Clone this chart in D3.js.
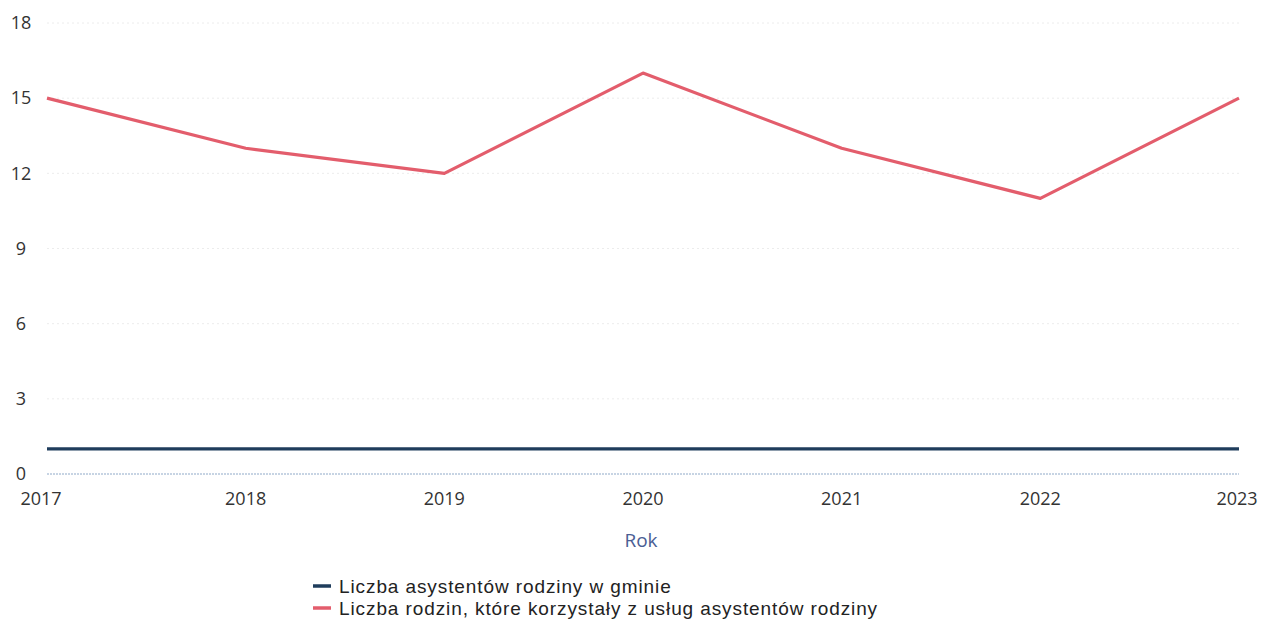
<!DOCTYPE html>
<html><head><meta charset="utf-8">
<script src="https://cdn.jsdelivr.net/npm/d3@7"></script>
<style>body{margin:0;background:#fff;} svg{display:block;font-family:"Open Sans",sans-serif;}</style>
</head><body><svg id="c" width="1264" height="620"></svg>
<script>
const years = ["2017","2018","2019","2020","2021","2022","2023"];
const assistants = [1,1,1,1,1,1,1];
const families = [15,13,12,16,13,11,15];
const yTicks = [0,3,6,9,12,15,18];
const seriesNames = ["Liczba asystentów rodziny w gminie","Liczba rodzin, które korzystały z usług asystentów rodziny"];
const colors = ["#1f3d5c","#e35d6c"];

const svg = d3.select("#c");
const x = d3.scalePoint().domain(years).range([47,1239]);
const y = d3.scaleLinear().domain([0,18]).range([474,23]);

// gridlines
svg.append("g").selectAll("line").data(yTicks.filter(d=>d>0)).join("line")
  .attr("x1",47).attr("x2",1239).attr("y1",d=>y(d)).attr("y2",d=>y(d))
  .attr("stroke","#ececec").attr("stroke-dasharray","2,3").attr("stroke-width",1);
// zero line
svg.append("line").attr("x1",47).attr("x2",1239).attr("y1",y(0)).attr("y2",y(0))
  .attr("stroke","#8fa9c8").attr("stroke-dasharray","2,1").attr("stroke-width",1);

// y labels
svg.append("g").selectAll("text").data(yTicks).join("text")
  .attr("x",21).attr("y",d=>y(d)).attr("dy","0.35em").attr("text-anchor","middle")
  .attr("font-size",18).attr("fill","#333").text(d=>d);
// x labels
svg.append("g").selectAll("text").data(years).join("text")
  .attr("x",d=>x(d)+(d==="2017"?-6:(d==="2023"?-2:0))).attr("y",505).attr("text-anchor","middle")
  .attr("font-size",18).attr("fill","#333").text(d=>d);
svg.append("text").attr("x",641).attr("y",547).attr("text-anchor","middle")
  .attr("font-size",19).attr("fill","#4a5d94").text("Rok");

const line = d3.line().x((d,i)=>x(years[i])).y(d=>y(d));
[assistants,families].forEach((s,k)=>{
  svg.append("path").datum(s).attr("d",line).attr("fill","none")
    .attr("stroke",colors[k]).attr("stroke-width",3.2).attr("stroke-linejoin","round");
});

// legend
const lg = svg.append("g");
seriesNames.forEach((n,k)=>{
  const yy = 586 + k*22;
  lg.append("line").attr("x1",313).attr("x2",331).attr("y1",yy).attr("y2",yy)
    .attr("stroke",colors[k]).attr("stroke-width",3.5);
  lg.append("text").attr("x",339).attr("y",yy).attr("dy","0.35em")
    .attr("font-family","'Liberation Sans', Arial, sans-serif")
    .attr("font-size",19).attr("letter-spacing","0.9").attr("fill","#222").text(n);
});
</script></body></html>
